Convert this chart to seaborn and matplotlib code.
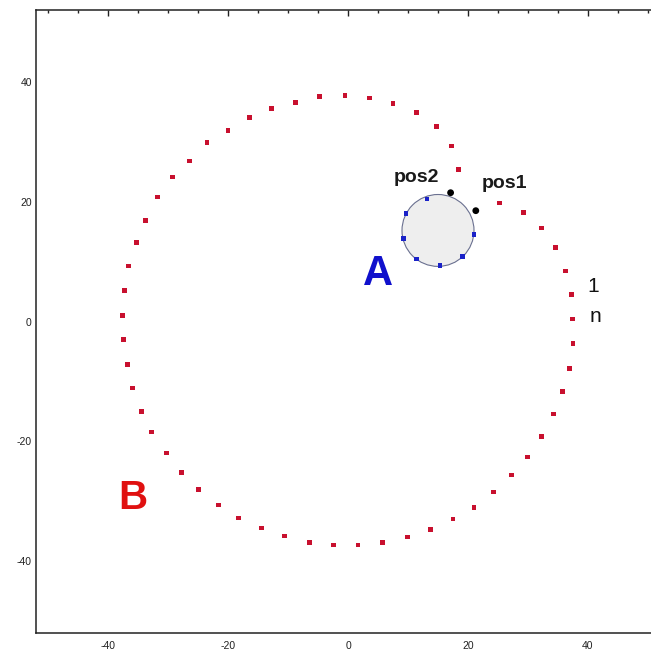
import numpy as np
import pandas as pd
import matplotlib
matplotlib.use("Agg")
import matplotlib.pyplot as plt
from matplotlib.patches import Circle
from matplotlib.ticker import MultipleLocator
import seaborn as sns

# Big ring B (red squares), from point "1" counter-clockwise to point "n"
ring_x = [37.3, 36.2, 34.6, 32.3, 29.3, 25.3,
          18.4, 17.3, 14.7, 11.45, 7.5, 3.6, -0.5, -4.7, -8.8, -12.7, -16.4,
          -20.0, -23.5, -26.4, -29.2, -31.8, -33.8, -35.3, -36.6, -37.3, -37.6,
          -37.45, -36.8, -35.95, -34.45, -32.7, -30.3, -27.7, -24.9, -21.6,
          -18.2, -14.4, -10.55, -6.4, -2.45, 1.67, 5.78, 9.9, 13.8, 17.5,
          21.0, 24.3, 27.3, 29.9, 32.3, 34.3, 35.8, 36.9, 37.5, 37.4]
ring_y = [4.55, 8.4, 12.4, 15.6, 18.2, 19.8,
          25.4, 29.3, 32.6, 34.9, 36.4, 37.3, 37.7, 37.6, 36.6, 35.6, 34.1,
          31.9, 29.9, 26.8, 24.1, 20.8, 16.9, 13.2, 9.28, 5.17, 1.05,
          -3.0, -7.2, -11.1, -15.0, -18.45, -21.95, -25.2, -28.0, -30.6,
          -32.8, -34.5, -35.8, -36.9, -37.3, -37.3, -36.9, -36.0, -34.7, -33.0,
          -31.05, -28.45, -25.6, -22.6, -19.2, -15.45, -11.7, -7.8, -3.7, 0.4]

# Small ring A (blue squares)
small_x = [13.17, 9.67, 9.28, 11.45, 15.33, 19.05, 21.0]
small_y = [20.45, 18.0, 13.9, 10.45, 9.38, 10.88, 14.55]
small_center = (15.0, 15.2)
small_radius = 6.0

# Marked positions (black dots)
pos_x = [21.3, 17.1]
pos_y = [18.5, 21.5]

# Labels
pos_text = ["pos2", "pos1"]
pos_label_x = [11.4, 26.1]
pos_label_y = [24.0, 23.0]
end_text = ["1", "n"]
end_label_x = [40.9, 41.3]
end_label_y = [5.8, 0.8]

ticks = [-40, -20, 0, 20, 40]

sns.set_style("white")
plt.rcParams['font.family'] = ['Liberation Sans', 'DejaVu Sans']
plt.rcParams['axes.unicode_minus'] = False

fig = plt.figure(figsize=(6.51, 6.51), dpi=100)
ax = fig.add_axes([36 / 651, (651 - 633) / 651, 624 / 651, 623 / 651])

ax.add_patch(Circle(small_center, small_radius, facecolor="#eeeeee",
                    edgecolor="#6a7090", linewidth=0.8, zorder=1))

ring_df = pd.DataFrame({"x": ring_x, "y": ring_y})
small_df = pd.DataFrame({"x": small_x, "y": small_y})
pos_df = pd.DataFrame({"x": pos_x, "y": pos_y})

sns.scatterplot(data=ring_df, x="x", y="y", ax=ax, marker="s", s=11,
                color="#c8102e", edgecolor="none", zorder=3)
sns.scatterplot(data=small_df, x="x", y="y", ax=ax, marker="s", s=11,
                color="#1a22c8", edgecolor="none", zorder=3)
sns.scatterplot(data=pos_df, x="x", y="y", ax=ax, marker="o", s=24,
                color="black", edgecolor="none", zorder=4)

for t, x, y in zip(pos_text, pos_label_x, pos_label_y):
    ax.text(x, y, t, fontsize=14, fontweight="bold", color="#1a1a1a",
            ha="center", va="center")
for t, x, y in zip(end_text, end_label_x, end_label_y):
    ax.text(x, y, t, fontsize=15, color="#111111",
            ha="center", va="center")

ax.text(5.0, 7.9, "A", fontsize=30, fontweight="bold", color="#1010cc",
        ha="center", va="center")
ax.text(-35.8, -29.5, "B", fontsize=29, fontweight="bold", color="#e01010",
        ha="center", va="center")

ax.set_xlim(-52, 52)
ax.set_ylim(-52, 52)
ax.set_xticks(ticks)
ax.set_yticks(ticks)
ax.xaxis.set_minor_locator(MultipleLocator(5))
ax.yaxis.set_minor_locator(MultipleLocator(5))
ax.tick_params(which="both", direction="in", top=True, right=True,
               labeltop=False, labelright=False, colors="#222222",
               labelsize=7.5, width=1.0)
ax.tick_params(which="major", length=4)
ax.tick_params(which="minor", length=2)
ax.tick_params(axis="x", pad=6)
ax.tick_params(axis="y", pad=3)
ax.set_xlabel("")
ax.set_ylabel("")
for s in ax.spines.values():
    s.set_visible(True)
    s.set_color("#222222")
    s.set_linewidth(1.1)

fig.savefig("out.png", dpi=100)
